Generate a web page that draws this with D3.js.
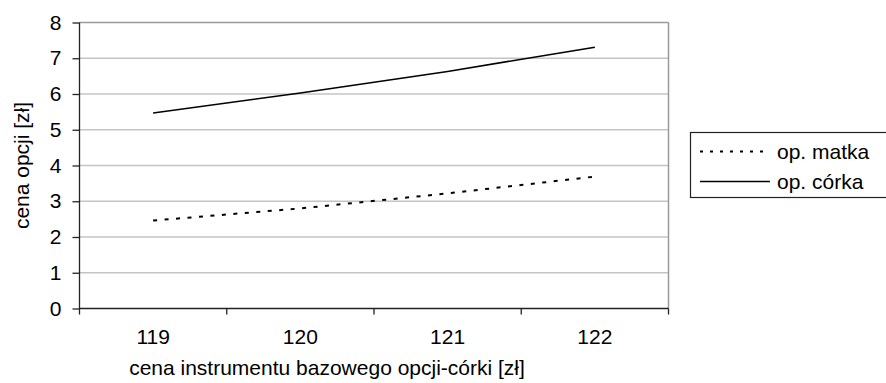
<!DOCTYPE html>
<html>
<head>
<meta charset="utf-8">
<script src="https://cdn.jsdelivr.net/npm/d3@7"></script>
<style>
  body { margin: 0; background: #fff; }
  text { font-family: "Liberation Sans", Arial, sans-serif; fill: #000; }
</style>
</head>
<body>
<div id="chart"></div>
<script>
// data
const categories = ["119", "120", "121", "122"];
const matka = [2.46, 2.8, 3.22, 3.69];
const corka = [5.47, 6.03, 6.63, 7.31];
const series_names = ["op. matka", "op. córka"];
const y_ticks = [0, 1, 2, 3, 4, 5, 6, 7, 8];

const dims = { width: 886, height: 383 };
const plot = { left: 79.5, right: 668.5, top: 22.5, bottom: 308.5 };
const font_size = 21;

var svg = d3.select("#chart")
            .append("svg")
            .attr("width", dims.width)
            .attr("height", dims.height);

var x = d3.scaleBand().domain(categories).range([plot.left, plot.right]).paddingInner(0).paddingOuter(0);
var y = d3.scaleLinear().domain([0, 8]).range([plot.bottom, plot.top]);

// gridlines
svg.append("g").selectAll("line").data(y_ticks.filter(d => d > 0)).enter().append("line")
   .attr("x1", plot.left).attr("x2", plot.right)
   .attr("y1", d => y(d)).attr("y2", d => y(d))
   .attr("stroke", d => d == 8 ? "#9a9a9a" : "#c4c4c4")
   .attr("stroke-width", 1.5);

// right border of plot area
svg.append("line")
   .attr("x1", plot.right).attr("x2", plot.right)
   .attr("y1", plot.top).attr("y2", plot.bottom)
   .attr("stroke", "#9a9a9a").attr("stroke-width", 1.5);

// y axis
const y_axis = svg.append("g").attr("transform", `translate(${plot.left},0)`)
   .call(d3.axisLeft(y).tickValues(y_ticks).tickSize(7).tickPadding(11).tickFormat(d3.format("d")));
y_axis.select(".domain").attr("stroke", "#222").attr("stroke-width", 1.3)
      .attr("d", `M0,${plot.top}V${plot.bottom + 6}`);
y_axis.selectAll(".tick line").attr("stroke", "#222").attr("stroke-width", 1.3);
y_axis.selectAll(".tick text").attr("font-size", font_size).attr("font-family", "Liberation Sans, Arial").style("fill", "#000");

// x axis (labels centered, ticks at band edges)
const x_axis = svg.append("g").attr("transform", `translate(0,${plot.bottom})`)
   .call(d3.axisBottom(x).tickSize(0).tickPadding(21));
x_axis.select(".domain").attr("stroke", "#222").attr("stroke-width", 1.3)
      .attr("d", `M${plot.left},0H${plot.right}`);
x_axis.selectAll(".tick text").attr("font-size", font_size).attr("font-family", "Liberation Sans, Arial").style("fill", "#000");
const edges = categories.map(c => x(c)).concat([x(categories[categories.length - 1]) + x.bandwidth()]);
x_axis.selectAll(".edge").data(edges.slice(1)).enter().append("line")
   .attr("x1", d => d).attr("x2", d => d)
   .attr("y1", 0).attr("y2", 6)
   .attr("stroke", "#222").attr("stroke-width", 1.3);

// axis titles
svg.append("text")
   .attr("text-anchor", "middle")
   .attr("x", 327)
   .attr("y", 375)
   .attr("font-size", font_size)
   .text("cena instrumentu bazowego opcji-córki [zł]");

svg.append("text")
   .attr("text-anchor", "middle")
   .attr("transform", `translate(29,${(plot.top + plot.bottom) / 2}) rotate(-90)`)
   .attr("font-size", font_size)
   .text("cena opcji [zł]");

// lines
const line = d3.line().x((d, i) => x(categories[i]) + x.bandwidth() / 2).y(d => y(d));

svg.append("path").datum(matka)
   .attr("d", line).attr("fill", "none")
   .attr("stroke", "#000").attr("stroke-width", 2)
   .attr("stroke-dasharray", "4,7.5");

svg.append("path").datum(corka)
   .attr("d", line).attr("fill", "none")
   .attr("stroke", "#000").attr("stroke-width", 1.6);

// legend
const legend = svg.append("g");
legend.append("rect")
   .attr("x", 690.5).attr("y", 132.5)
   .attr("width", 220).attr("height", 65)
   .attr("fill", "#fff").attr("stroke", "#222").attr("stroke-width", 1.2);

const legend_rows = legend.selectAll(".row").data(series_names).enter().append("g")
   .attr("transform", (d, i) => `translate(0,${151.5 + i * 30})`);
legend_rows.append("line")
   .attr("x1", 700).attr("x2", 770).attr("y1", 0).attr("y2", 0)
   .attr("stroke", "#000")
   .attr("stroke-width", (d, i) => i == 0 ? 2 : 1.6)
   .attr("stroke-dasharray", (d, i) => i == 0 ? "3,7" : null);
legend_rows.append("text")
   .attr("x", 777).attr("y", 0).attr("dy", "0.35em")
   .attr("font-size", font_size)
   .text(d => d);
</script>
</body>
</html>
